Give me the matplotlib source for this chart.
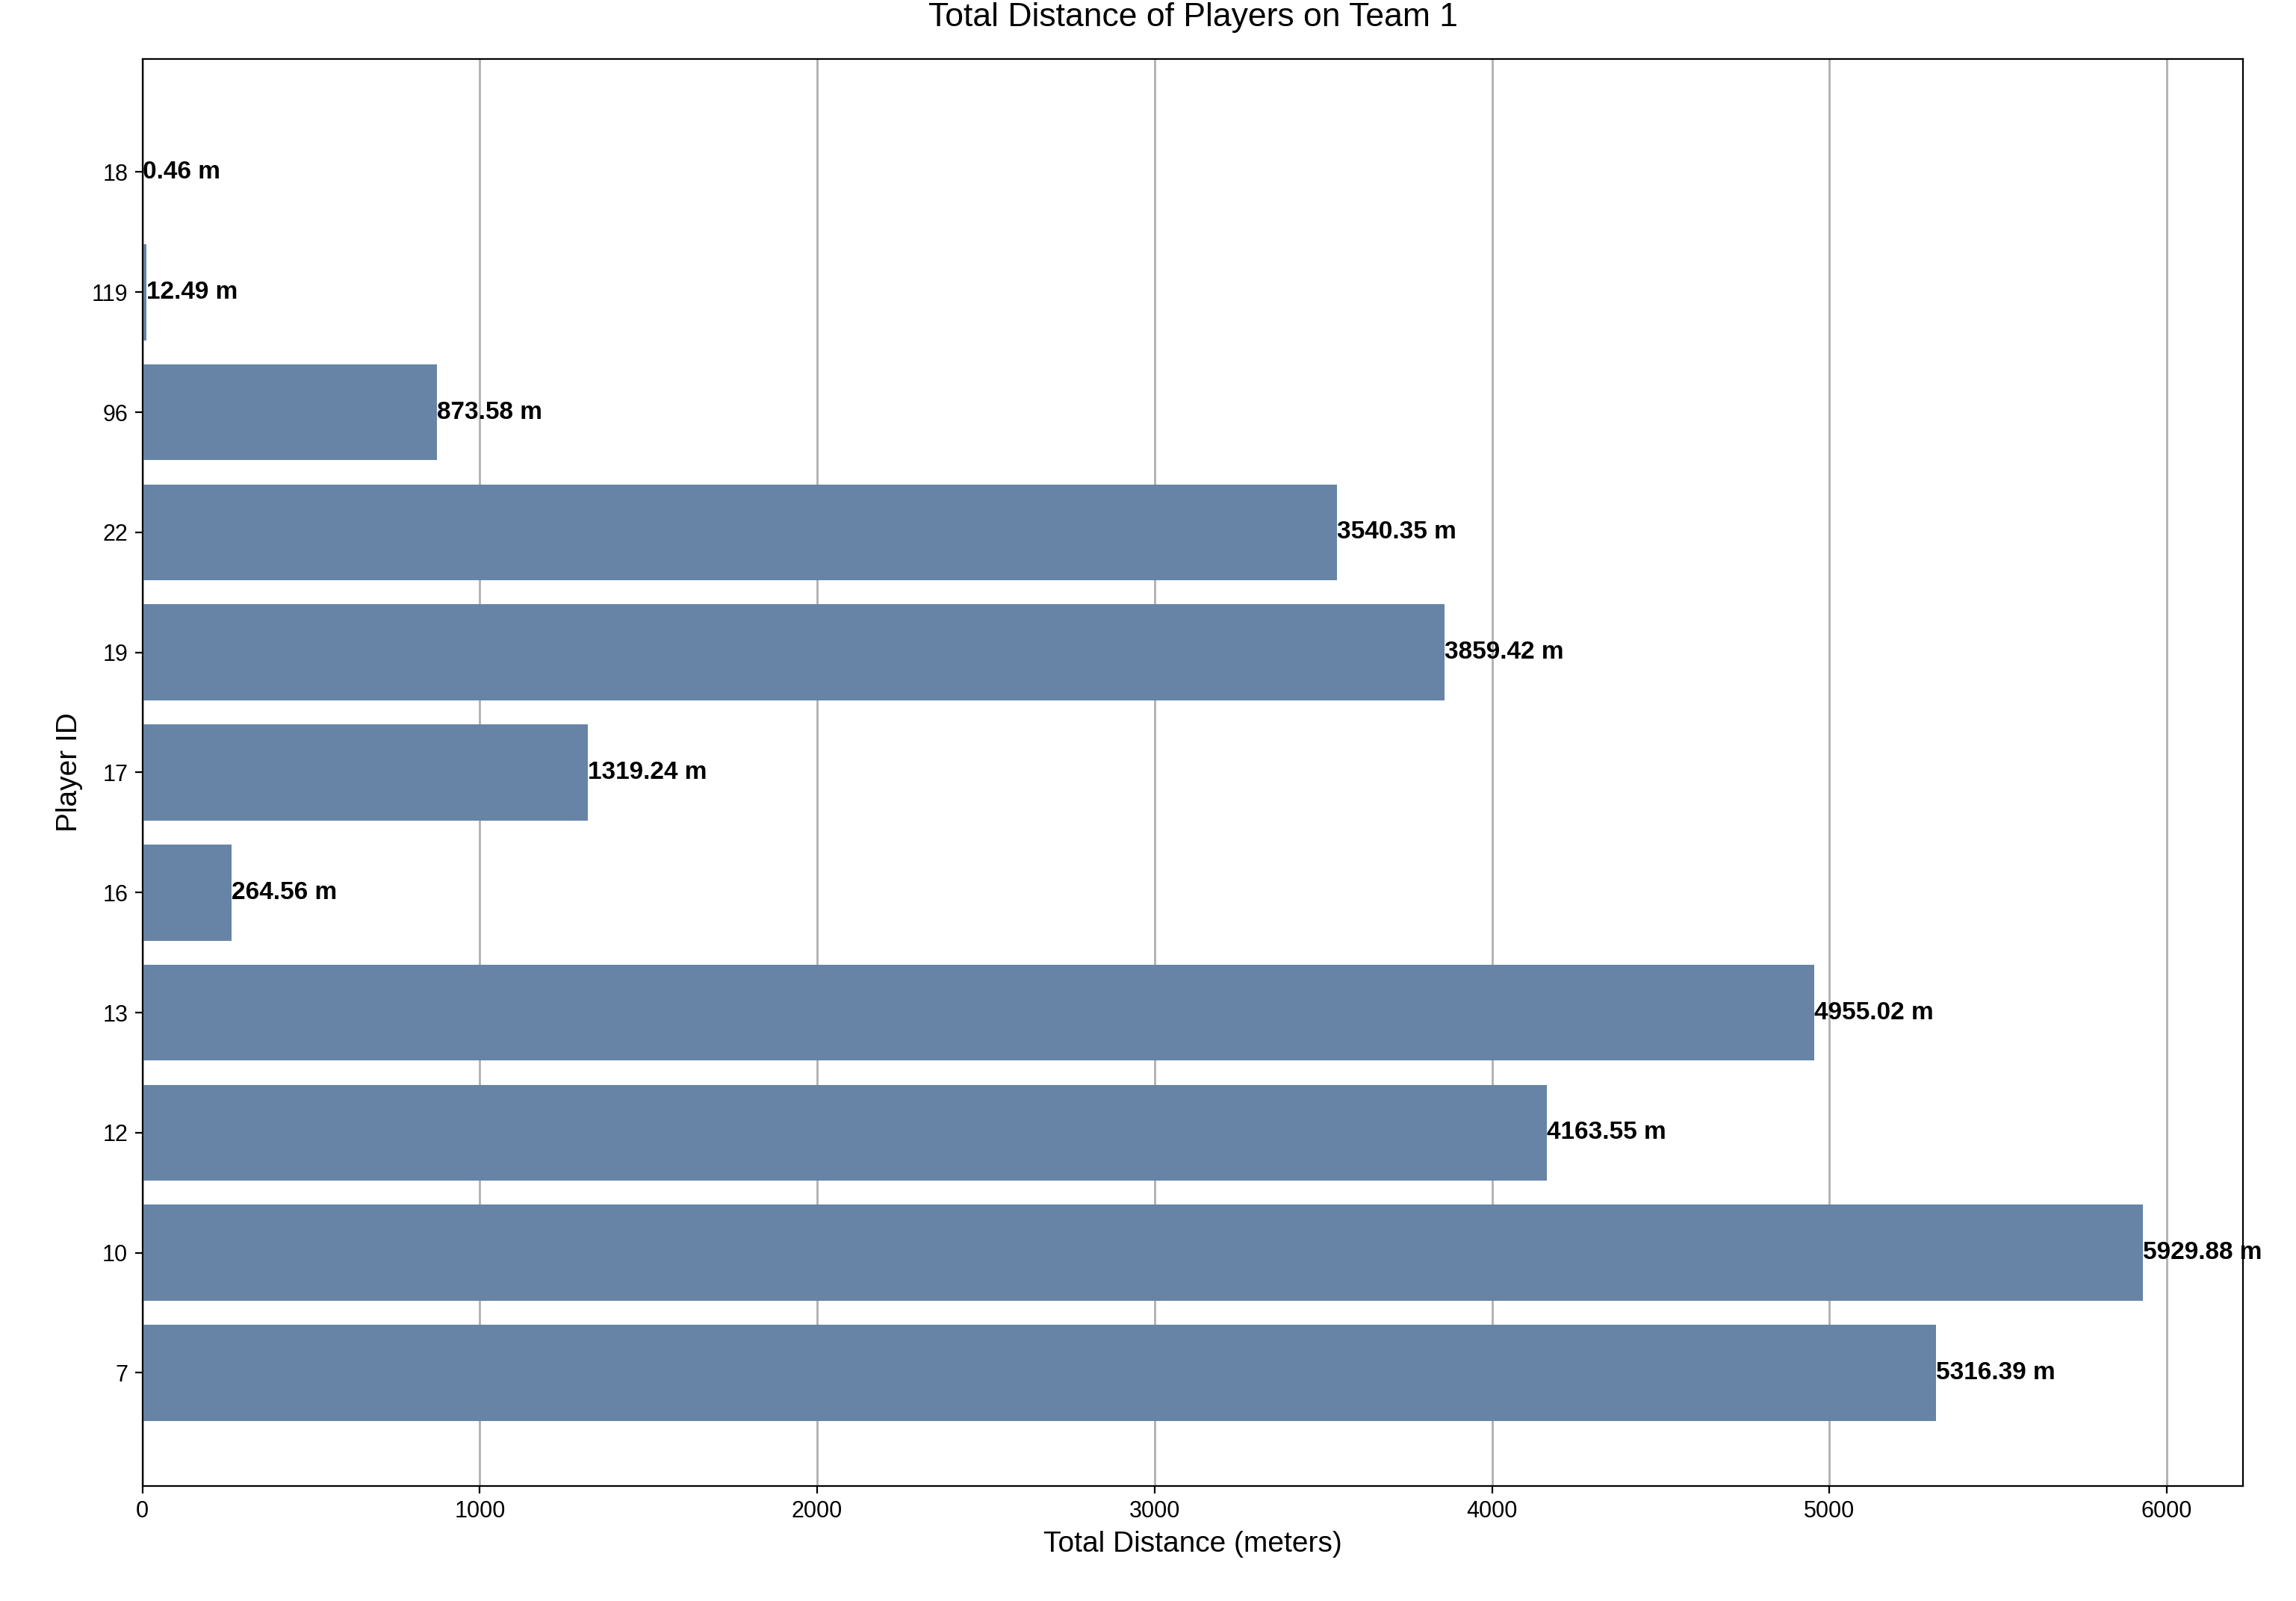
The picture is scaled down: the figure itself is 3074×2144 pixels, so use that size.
import matplotlib
matplotlib.use("Agg")
import matplotlib.pyplot as plt

plt.rcParams['font.family'] = ['Liberation Sans', 'DejaVu Sans']

players = ["7", "10", "12", "13", "16", "17", "19", "22", "96", "119", "18"]
distances = [5316.39, 5929.88, 4163.55, 4955.02, 264.56, 1319.24, 3859.42, 3540.35, 873.58, 12.49, 0.46]

fig = plt.figure(figsize=(15.37, 10.72), dpi=200)
ax = fig.add_axes([0.062, 0.072, 0.915, 0.891])
ax.barh(players, distances, color='#6784a6', height=0.8, zorder=2)
ax.grid(axis='x', color='#b0b0b0', linewidth=1.0, zorder=0)
ax.set_axisbelow(True)
for i, d in enumerate(distances):
    ax.text(d, i, f"{d:.2f} m", va='center', ha='left', fontsize=12, fontweight='bold', color='black')
ax.set_xlabel("Total Distance (meters)", fontsize=14)
ax.set_ylabel("Player ID", fontsize=14)
ax.set_title("Total Distance of Players on Team 1", fontsize=16, pad=16)
ax.tick_params(labelsize=11)
fig.savefig("out.png", dpi=200)
